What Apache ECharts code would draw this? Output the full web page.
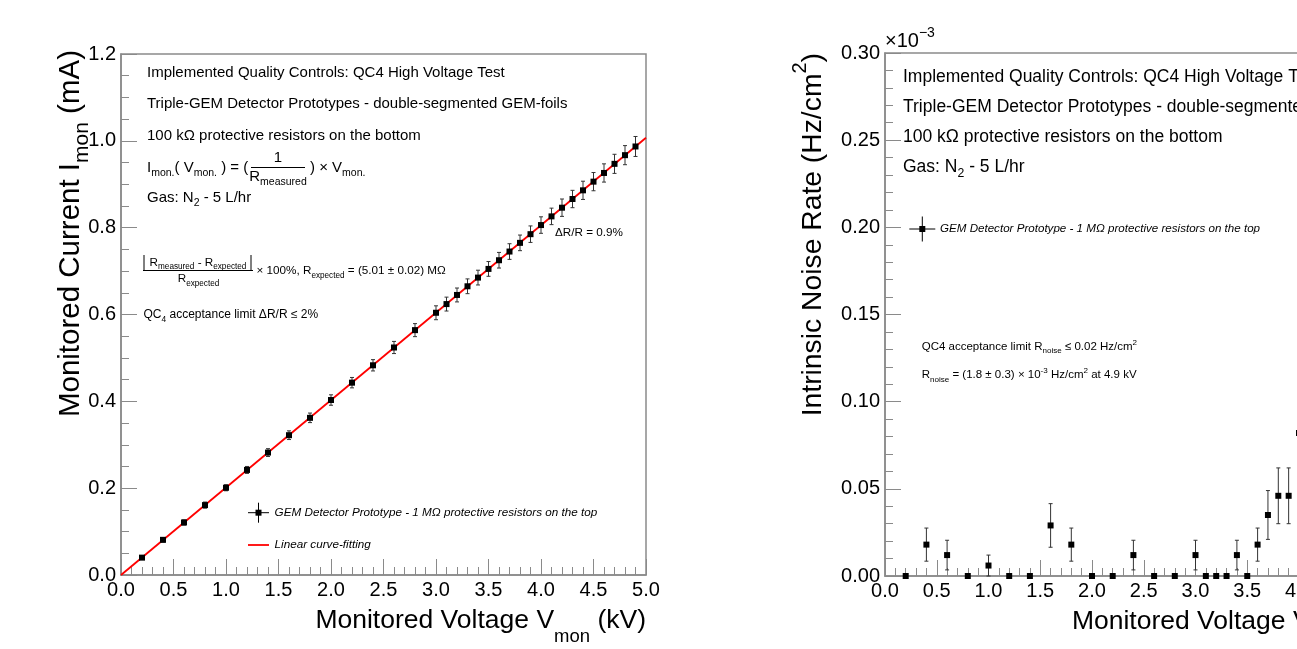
<!DOCTYPE html>
<html><head><meta charset="utf-8">
<script src="https://cdn.jsdelivr.net/npm/echarts@6/dist/echarts.min.js"></script>
<style>html,body{margin:0;padding:0;background:#fff}#c{width:1297px;height:649px}</style>
</head><body><div id="c"></div>
<script>
// ---------- data ----------
const voltage = [0.2,0.4,0.6,0.8,1.0,1.2,1.4,1.6,1.8,2.0,2.2,2.4,2.6,2.8,3.0,3.1,3.2,3.3,3.4,3.5,3.6,3.7,3.8,3.9,4.0,4.1,4.2,4.3,4.4,4.5,4.6,4.7,4.8,4.9];
const current = [0.040,0.081,0.121,0.161,0.201,0.242,0.282,0.322,0.362,0.403,0.443,0.483,0.524,0.564,0.604,0.624,0.645,0.665,0.685,0.705,0.725,0.745,0.765,0.785,0.806,0.826,0.846,0.866,0.886,0.906,0.926,0.947,0.967,0.987];
const currentErr = [0.004,0.005,0.006,0.007,0.007,0.008,0.009,0.010,0.011,0.012,0.012,0.013,0.014,0.015,0.016,0.016,0.016,0.017,0.017,0.017,0.018,0.018,0.018,0.019,0.019,0.019,0.020,0.020,0.021,0.021,0.021,0.022,0.022,0.023];
const fitVoltage = [0, 5];
const fitCurrent = [0, 1.007];
const noiseVoltage = [0.2,0.4,0.6,0.8,1.0,1.2,1.4,1.6,1.8,2.0,2.2,2.4,2.6,2.8,3.0,3.1,3.2,3.3,3.4,3.5,3.6,3.7,3.8,3.9,4.0];
const noiseRate = [0,0.018,0.012,0,0.006,0,0,0.029,0.018,0,0,0.012,0,0,0.012,0,0,0,0.012,0,0.018,0.035,0.046,0.046,0.082];
const noiseErr = [0,0.0095,0.0085,0,0.006,0,0,0.0125,0.0095,0,0,0.0085,0,0,0.0085,0,0,0,0.0085,0,0.0095,0.014,0.016,0.016,0.019];

// ---------- style helpers ----------
const FF = '"Liberation Sans", Arial, Helvetica, sans-serif';
const AX = '#8a8a8a';
function rich(s, italic) {
  const st = italic ? 'italic' : 'normal';
  return {
    sub: {fontSize: s*0.7, fontFamily: FF, fontStyle: st, fill:'#000', verticalAlign:'bottom', lineHeight: s*0.6},
    sup: {fontSize: s*0.7, fontFamily: FF, fontStyle: st, fill:'#000', verticalAlign:'top', lineHeight: s*0.6}
  };
}
function T(x, y, text, s, o) {
  o = o || {};
  return {type:'text', x:x, y:y, z:50, silent:true, style:{text:text, fill:'#000', fontSize:s, fontFamily:FF,
    fontStyle:o.italic?'italic':'normal', lineHeight:s*1.45, align:o.align||'left', verticalAlign:'middle', rich:rich(s,o.italic)}};
}
function L(x1,y1,x2,y2,c,w) {
  return {type:'line', z:50, silent:true, shape:{x1:x1,y1:y1,x2:x2,y2:y2}, style:{stroke:c||'#000', lineWidth:w||1}};
}
function legendMarker(x, y, hx, hy) {
  return [L(x-hx,y,x+hx,y,'#000',1), L(x,y-hy,x,y+hy,'#000',1),
    {type:'rect', z:51, silent:true, shape:{x:x-3,y:y-3,width:6,height:6}, style:{fill:'#000'}}];
}

function errRender(params, api) {
  const x = api.value(0), y = api.value(1), e = api.value(2);
  if (!e) return null;
  const t = api.coord([x, y + e]), b = api.coord([x, y - e]);
  const st = {stroke:'#333', lineWidth:1};
  return {type:'group', children:[
    {type:'line', shape:{x1:t[0],y1:t[1],x2:b[0],y2:b[1]}, style:st},
    {type:'line', shape:{x1:t[0]-2,y1:t[1],x2:t[0]+2,y2:t[1]}, style:st},
    {type:'line', shape:{x1:b[0]-2,y1:b[1],x2:b[0]+2,y2:b[1]}, style:st}
  ]};
}

function xAxisCfg(grid) {
  return {type:'value', gridIndex:grid, min:0, max:5, interval:0.5,
    name:'{a|Monitored Voltage V}{s|mon}{a| (kV)}', nameLocation:'end', nameGap:0, nameMoveOverlap:false,
    nameTextStyle:{align:'right', verticalAlign:'top', padding:[20.5,0,0,0],
      rich:{a:{fontSize:26.5, fontFamily:FF, color:'#000', lineHeight:51}, s:{fontSize:18.5, fontFamily:FF, color:'#000', verticalAlign:'bottom', lineHeight:10}}},
    axisLine:{show:true, onZero:false, lineStyle:{color:AX, width:1.5}},
    axisTick:{show:true, inside:true, length:16, lineStyle:{color:AX, width:1}},
    minorTick:{show:true, splitNumber:5, length:8, lineStyle:{color:AX, width:1}},
    splitLine:{show:false},
    axisLabel:{color:'#000', fontSize:20, fontFamily:FF, margin:5, formatter:v=>v.toFixed(1)}};
}

const chart = echarts.init(document.getElementById('c'), null, {renderer:'canvas'});
const option = {
  animation:false,
  backgroundColor:'#fff',
  grid:[
    {left:121, top:54, width:525, height:521, show:true, borderColor:AX, borderWidth:1.5, backgroundColor:'transparent', containLabel:false, outerBoundsMode:'none'},
    {left:885, top:53, width:517.5, height:523, show:true, borderColor:AX, borderWidth:1.5, backgroundColor:'transparent', containLabel:false, outerBoundsMode:'none'}
  ],
  xAxis:[xAxisCfg(0), xAxisCfg(1)],
  yAxis:[
    {type:'value', gridIndex:0, min:0, max:1.2, interval:0.2,
     name:'{a|Monitored Current I}{s|mon}{a| (mA)}', nameLocation:'end', nameGap:4, nameRotate:90, nameMoveOverlap:false,
     nameTextStyle:{align:'right', verticalAlign:'bottom', padding:[0,0,28.5,0],
       rich:{a:{fontSize:29.5, fontFamily:FF, color:'#000', lineHeight:43}, s:{fontSize:21, fontFamily:FF, color:'#000', verticalAlign:'bottom', lineHeight:10}}},
     axisLine:{show:true, onZero:false, lineStyle:{color:AX, width:1.5}},
     axisTick:{show:true, inside:true, length:16, lineStyle:{color:AX, width:1}},
     minorTick:{show:true, splitNumber:4, length:8, lineStyle:{color:AX, width:1}},
     splitLine:{show:false},
     axisLabel:{color:'#000', fontSize:20, fontFamily:FF, margin:5, formatter:v=>v.toFixed(1)}},
    {type:'value', gridIndex:1, min:0, max:0.3, interval:0.05,
     name:'{a|Intrinsic Noise Rate (Hz/cm}{p|2}{a|)}', nameLocation:'end', nameGap:0, nameRotate:90, nameMoveOverlap:false,
     nameTextStyle:{align:'right', verticalAlign:'bottom', padding:[0,0,48,0],
       rich:{a:{fontSize:28.3, fontFamily:FF, color:'#000', lineHeight:47}, p:{fontSize:20, fontFamily:FF, color:'#000', verticalAlign:'top', lineHeight:10}}},
     axisLine:{show:true, onZero:false, lineStyle:{color:AX, width:1.5}},
     axisTick:{show:true, inside:true, length:16, lineStyle:{color:AX, width:1}},
     minorTick:{show:true, splitNumber:5, length:8, lineStyle:{color:AX, width:1}},
     splitLine:{show:false},
     axisLabel:{color:'#000', fontSize:20, fontFamily:FF, margin:5, formatter:v=>v.toFixed(2)}}
  ],
  series:[
    {type:'line', xAxisIndex:0, yAxisIndex:0, data:fitVoltage.map((v,i)=>[v, fitCurrent[i]]), showSymbol:false, symbol:'none',
     lineStyle:{color:'#ff0000', width:1.8}, z:2, clip:true},
    {type:'custom', xAxisIndex:0, yAxisIndex:0, renderItem:errRender, data:voltage.map((v,i)=>[v, current[i], currentErr[i]]), z:3, clip:false},
    {type:'scatter', xAxisIndex:0, yAxisIndex:0, symbol:'rect', symbolSize:6, itemStyle:{color:'#000', opacity:1}, data:voltage.map((v,i)=>[v, current[i]]), z:4, clip:false},
    {type:'custom', xAxisIndex:1, yAxisIndex:1, renderItem:errRender, data:noiseVoltage.map((v,i)=>[v, noiseRate[i], noiseErr[i]]), z:3, clip:false},
    {type:'scatter', xAxisIndex:1, yAxisIndex:1, symbol:'rect', symbolSize:6, itemStyle:{color:'#000', opacity:1}, data:noiseVoltage.map((v,i)=>[v, noiseRate[i]]), z:4, clip:false}
  ],
  graphic:[].concat(
    [
      // left panel annotations
      T(147, 73, 'Implemented Quality Controls: QC4 High Voltage Test', 15),
      T(147, 104, 'Triple-GEM Detector Prototypes - double-segmented GEM-foils', 15),
      T(147, 136, '100 kΩ protective resistors on the bottom', 15),
      T(147, 168, 'I{sub|mon.}( V{sub|mon.} ) = (', 15),
      T(278, 158, '1', 15, {align:'center'}),
      L(251, 167.5, 305, 167.5, '#000', 1),
      T(278, 177, 'R{sub|measured}', 15, {align:'center'}),
      T(310, 168, ') × V{sub|mon.}', 15),
      T(147, 198, 'Gas: N{sub|2} - 5 L/hr', 15),
      T(555, 233, 'ΔR/R = 0.9%', 11.7),
      L(144, 255, 144, 270, '#000', 1),
      L(251, 255, 251, 270, '#000', 1),
      T(198, 262.5, 'R{sub|measured} - R{sub|expected}', 11.7, {align:'center'}),
      L(143, 270.5, 253, 270.5, '#000', 1),
      T(198.5, 279, 'R{sub|expected}', 11.7, {align:'center'}),
      T(256.5, 271, '× 100%, R{sub|expected} = (5.01 ± 0.02) MΩ', 11.7),
      T(143.5, 315, 'QC{sub|4} acceptance limit ΔR/R ≤ 2%', 12),
      T(274.6, 512.7, 'GEM Detector Prototype - 1 MΩ protective resistors on the top', 11.7, {italic:true}),
      L(248, 545, 269, 545, '#ff0000', 1.8),
      T(274.6, 545, 'Linear curve-fitting', 11.7, {italic:true}),
      // right panel annotations
      T(885, 41, '×10{sup|−3}', 20),
      T(903, 76.7, 'Implemented Quality Controls: QC4 High Voltage Test', 17.5),
      T(903, 106.7, 'Triple-GEM Detector Prototypes - double-segmented GEM-foils', 17.5),
      T(903, 137.3, '100 kΩ protective resistors on the bottom', 17.5),
      T(903, 167.3, 'Gas: N{sub|2} - 5 L/hr', 17.5),
      T(940, 229, 'GEM Detector Prototype - 1 MΩ protective resistors on the top', 11.6, {italic:true}),
      T(921.7, 346.7, 'QC4 acceptance limit R{sub|noise} ≤ 0.02 Hz/cm{sup|2}', 11.5),
      T(921.7, 375, 'R{sub|noise} = (1.8 ± 0.3) × 10{sup|-3} Hz/cm{sup|2} at 4.9 kV', 11.5)
    ],
    legendMarker(258.5, 512.7, 10.5, 10),
    legendMarker(922.3, 229, 13, 12.5)
  )
};
chart.setOption(option);
</script>
</body></html>
